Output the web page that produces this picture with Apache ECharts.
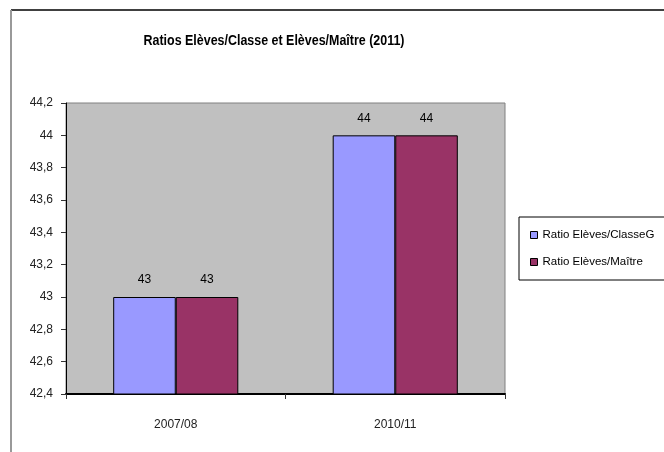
<!DOCTYPE html>
<html>
<head>
<meta charset="utf-8">
<script src="https://cdn.jsdelivr.net/npm/echarts@6/dist/echarts.min.js"></script>
<style>
  html, body { margin: 0; padding: 0; background: #fff; }
  #chart { width: 664px; height: 452px; }
</style>
</head>
<body>
<div id="chart"></div>
<script>
const chartTitle = 'Ratios Elèves/Classe et Elèves/Maître (2011)';
const categories = ['2007/08', '2010/11'];
const seriesNames = ['Ratio Elèves/ClasseG', 'Ratio Elèves/Maître'];
const classeValues = [43, 44];
const maitreValues = [43, 44];
const yMin = 42.4;
const yMax = 44.2;
const yStep = 0.2;

const baseFont = 'Liberation Sans, Arial, sans-serif';

function frenchNumber(v) {
  return String(Math.round(v * 10) / 10).replace('.', ',');
}

function barSeries(name, values, color) {
  return {
    name: name,
    type: 'bar',
    data: values,
    barGap: '0%',
    barCategoryGap: '43%',
    itemStyle: { color: color, borderColor: '#000', borderWidth: 1 },
    label: {
      show: true,
      position: 'top',
      distance: 11,
      color: '#000',
      fontFamily: baseFont,
      fontSize: 12,
      formatter: p => frenchNumber(p.value)
    }
  };
}

const chart = echarts.init(document.getElementById('chart'));
chart.setOption({
  animation: false,
  backgroundColor: '#fff',
  graphic: [
    { type: 'line', shape: { x1: 11, y1: 10, x2: 700, y2: 10 }, style: { stroke: '#000', lineWidth: 1.5 } },
    { type: 'line', shape: { x1: 11, y1: 10, x2: 11, y2: 460 }, style: { stroke: '#999', lineWidth: 2 } },
    // narrow title, like the original condensed bold face
    {
      type: 'text',
      x: 274,
      y: 33,
      scaleX: 0.83,
      style: {
        text: chartTitle,
        textAlign: 'center',
        textVerticalAlign: 'top',
        fontFamily: baseFont,
        fontSize: 15,
        fontWeight: 'bold',
        fill: '#000'
      }
    }
  ],
  legend: {
    orient: 'vertical',
    left: 519,
    top: 217,
    padding: [12, 30, 12, 11],
    itemGap: 15,
    itemWidth: 7,
    itemHeight: 7,
    icon: 'rect',
    borderColor: '#000',
    borderWidth: 1,
    itemStyle: { borderColor: '#000', borderWidth: 1 },
    textStyle: { fontFamily: baseFont, fontSize: 11.5, color: '#000' },
    data: seriesNames
  },
  grid: {
    left: 66,
    top: 103,
    right: 159,
    bottom: 58,
    show: true,
    backgroundColor: '#C0C0C0',
    borderColor: '#808080',
    borderWidth: 1
  },
  xAxis: {
    type: 'category',
    data: categories,
    axisLine: { lineStyle: { color: '#000', width: 2 } },
    axisTick: { show: true, length: 5, alignWithLabel: false, lineStyle: { color: '#333' } },
    axisLabel: { margin: 25, fontFamily: baseFont, fontSize: 12, color: '#222' }
  },
  yAxis: {
    type: 'value',
    min: yMin,
    max: yMax,
    interval: yStep,
    splitLine: { show: false },
    axisLine: { show: true, lineStyle: { color: '#000', width: 1 } },
    axisTick: { show: true, length: 5, lineStyle: { color: '#333' } },
    axisLabel: { margin: 13, fontFamily: baseFont, fontSize: 12, color: '#222', formatter: frenchNumber }
  },
  series: [
    barSeries(seriesNames[0], classeValues, '#9999FF'),
    barSeries(seriesNames[1], maitreValues, '#993366')
  ]
});
</script>
</body>
</html>
